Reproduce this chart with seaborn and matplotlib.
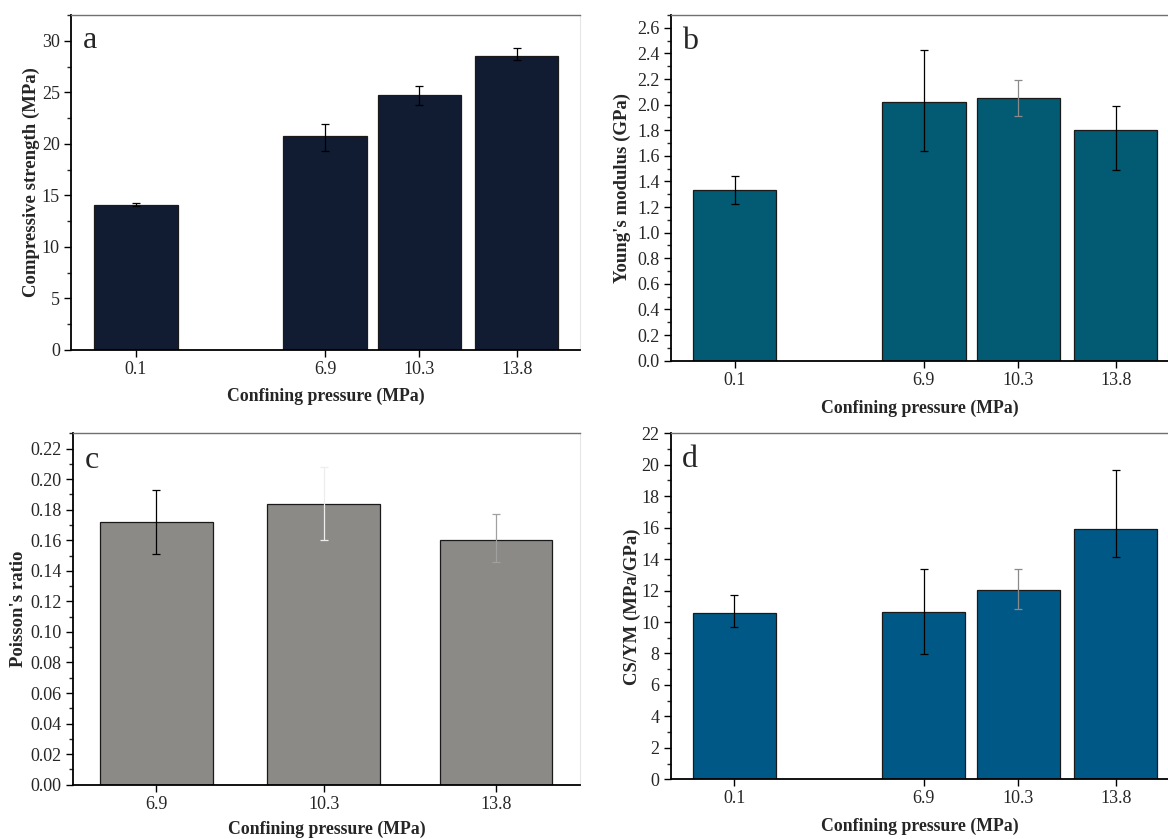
import numpy as np
import matplotlib
matplotlib.use('Agg')
import matplotlib.pyplot as plt
import seaborn as sns
from matplotlib.ticker import MultipleLocator, FormatStrFormatter

# data
pressure_abd = [0.1, 6.9, 10.3, 13.8]
pressure_c = [6.9, 10.3, 13.8]
pressure_labels_abd = ['0.1', '6.9', '10.3', '13.8']
pressure_labels_c = ['6.9', '10.3', '13.8']

strength = [14.1, 20.8, 24.7, 28.5]
strength_lo = [0.17, 1.5, 0.9, 0.4]
strength_hi = [0.17, 1.1, 0.9, 0.78]

modulus = [1.33, 2.02, 2.05, 1.80]
modulus_lo = [0.11, 0.38, 0.14, 0.31]
modulus_hi = [0.11, 0.41, 0.14, 0.19]

poisson = [0.172, 0.184, 0.160]
poisson_lo = [0.021, 0.024, 0.014]
poisson_hi = [0.021, 0.024, 0.017]

ratio = [10.60, 10.66, 12.04, 15.90]
ratio_lo = [0.93, 2.71, 1.19, 1.74]
ratio_hi = [1.14, 2.74, 1.36, 3.79]

sns.set_style('ticks')
plt.rcParams['font.family'] = ['Liberation Serif', 'DejaVu Serif']

fig = plt.figure(figsize=(11.68, 8.39), dpi=100)

W, H = 1168, 839


def make_ax(left, right, top, bottom):
    return fig.add_axes([left / W, (H - bottom) / H, (right - left) / W, (bottom - top) / H])


panels = [
    dict(ax=make_ax(71, 580, 15, 350), x=pressure_abd, xl=pressure_labels_abd, y=strength,
         lo=strength_lo, hi=strength_hi, color='#111c33', width=3.0 / 3.4,
         xlim=(-2.24, 16.08), ylim=(0, 32.5), major=5, minor=2.5, fmt='%d',
         ylabel='Compressive strength (MPa)', ylab_x=-0.077, letter='a',
         ecol=['black'] * 4, right_spine=True, xlab_y=-0.139),
    dict(ax=make_ax(671, 1168, 15, 360.7), x=pressure_abd, xl=pressure_labels_abd, y=modulus,
         lo=modulus_lo, hi=modulus_hi, color='#025a73', width=3.0 / 3.4,
         xlim=(-2.19, 15.68), ylim=(0, 2.7), major=0.2, minor=0.1, fmt='%.1f',
         ylabel="Young's modulus (GPa)", ylab_x=-0.097, letter='b',
         ecol=['black', 'black', '#8a8a8a', 'black'], right_spine=False, xlab_y=-0.137),
    dict(ax=make_ax(72.7, 580, 433.3, 784.7), x=pressure_c, xl=pressure_labels_c, y=poisson,
         lo=poisson_lo, hi=poisson_hi, color='#8b8a86', width=2.29 / 3.4,
         xlim=(5.2, 15.51), ylim=(0, 0.23), major=0.02, minor=0.01, fmt='%.2f',
         ylabel="Poisson's ratio", ylab_x=-0.106, letter='c',
         ecol=['black', '#ededed', '#a0a0a0'], right_spine=True, xlab_y=-0.127),
    dict(ax=make_ax(670.7, 1168, 433.3, 779.3), x=pressure_abd, xl=pressure_labels_abd, y=ratio,
         lo=ratio_lo, hi=ratio_hi, color='#005887', width=3.0 / 3.4,
         xlim=(-2.19, 15.68), ylim=(0, 22), major=2, minor=1, fmt='%d',
         ylabel='CS/YM (MPa/GPa)', ylab_x=-0.078, letter='d',
         ecol=['black', 'black', '#8a8a8a', 'black'], right_spine=False, xlab_y=-0.135),
]

for p in panels:
    ax = p['ax']
    sns.barplot(x=p['x'], y=p['y'], native_scale=True, color=p['color'], saturation=1,
                width=p['width'], edgecolor='#1a1a1a', linewidth=0.9, errorbar=None, ax=ax)
    for xi, yi, lo, hi, ec in zip(p['x'], p['y'], p['lo'], p['hi'], p['ecol']):
        ax.errorbar([xi], [yi], yerr=[[lo], [hi]], fmt='none', ecolor=ec,
                    elinewidth=0.9, capsize=3, capthick=0.9, zorder=5)

    ax.set_xlim(*p['xlim'])
    ax.set_ylim(*p['ylim'])
    ax.set_xticks(p['x'])
    ax.set_xticklabels(p['xl'])
    ax.yaxis.set_major_locator(MultipleLocator(p['major']))
    ax.yaxis.set_minor_locator(MultipleLocator(p['minor']))
    ax.yaxis.set_major_formatter(FormatStrFormatter(p['fmt']))
    ax.tick_params(axis='both', which='major', direction='out', length=5, width=1.0,
                   labelsize=13, pad=3, color='black')
    ax.tick_params(axis='y', which='minor', direction='out', length=3, width=1.0)
    ax.tick_params(axis='x', which='minor', bottom=False)

    for s in ['left', 'bottom']:
        ax.spines[s].set_color('black')
        ax.spines[s].set_linewidth(1.3)
    ax.spines['top'].set_visible(True)
    ax.spines['top'].set_color('#707070')
    ax.spines['top'].set_linewidth(1.0)
    if p['right_spine']:
        ax.spines['right'].set_visible(True)
        ax.spines['right'].set_color('#e6e6e6')
        ax.spines['right'].set_linewidth(0.8)
    else:
        ax.spines['right'].set_visible(False)

    ax.set_ylabel(p['ylabel'], fontsize=13.5, fontweight='bold')
    ax.yaxis.label.set_va('center')
    ax.yaxis.set_label_coords(p['ylab_x'], 0.5)
    ax.set_xlabel('Confining pressure (MPa)', fontsize=12.8, fontweight='bold')
    ax.xaxis.label.set_va('center')
    ax.xaxis.set_label_coords(0.5, p['xlab_y'])

    ax.text(0.023, 0.902, p['letter'], transform=ax.transAxes, fontsize=23,
            va='baseline', ha='left')

fig.savefig('out.png', dpi=100)
